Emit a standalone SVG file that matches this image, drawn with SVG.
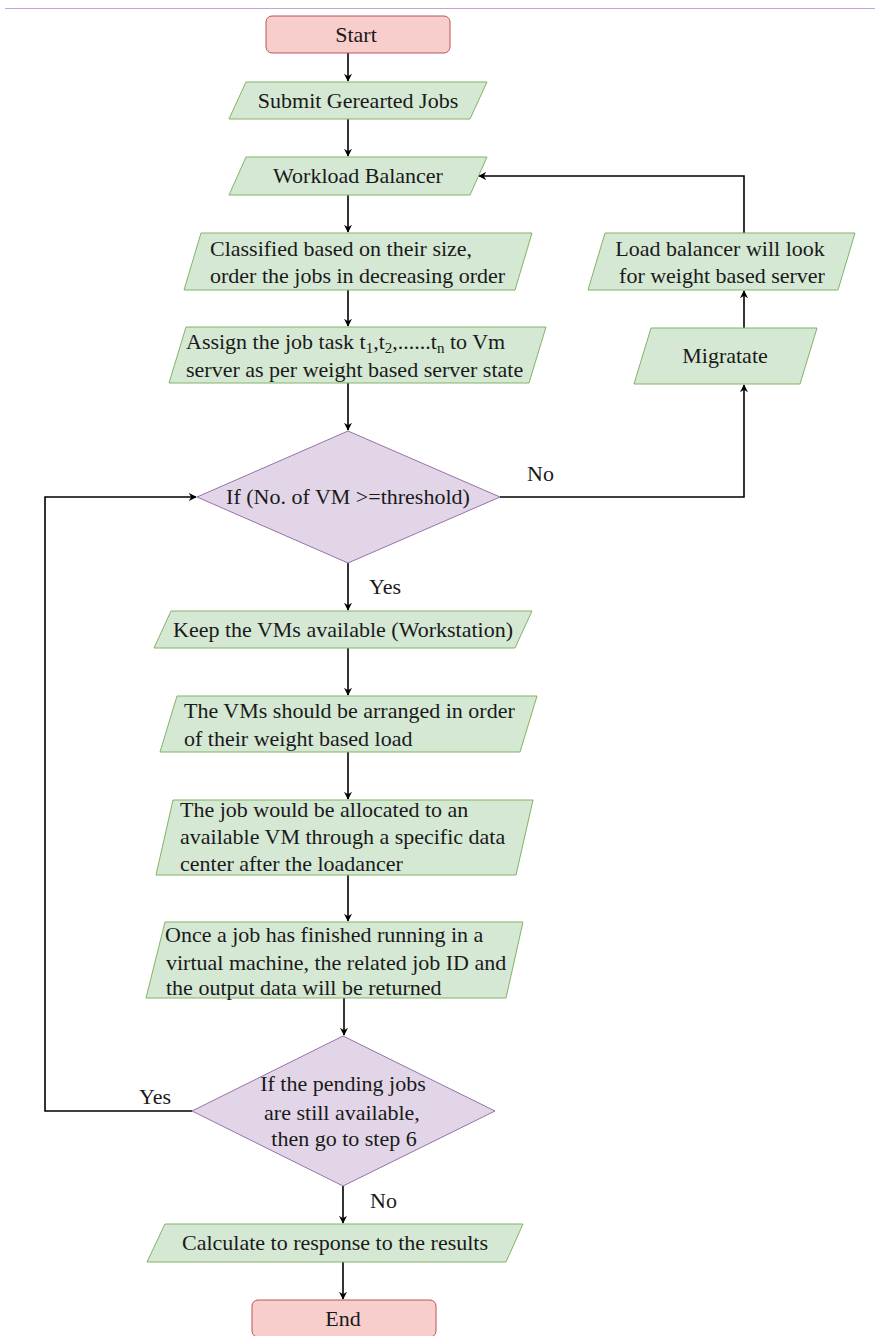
<svg xmlns="http://www.w3.org/2000/svg" width="875" height="1336" viewBox="0 0 875 1336">
<style>
.t{font-family:"Liberation Serif","Times New Roman",serif;font-size:22px;fill:#1a1a1a}
.m{text-anchor:middle}
.g{fill:#d5e8d4;stroke:#82b366;stroke-width:1}
.r{fill:#f8cecc;stroke:#b85450;stroke-width:1}
.p{fill:#e1d5e7;stroke:#9673a6;stroke-width:1}
.c{fill:none;stroke:#000;stroke-width:1.6}
</style>
<defs>
<marker id="a" viewBox="0 0 10 10" refX="9" refY="5" markerWidth="8" markerHeight="8" markerUnits="userSpaceOnUse" orient="auto">
<path d="M0,0 L10,5 L0,10 L3,5 z" fill="#000"/>
</marker>
</defs>
<rect width="875" height="1336" fill="#fff"/>
<line x1="5" y1="8.5" x2="875" y2="8.5" stroke="#c4a4d1" stroke-width="1.2"/>

<g id="connectors">
<path class="c" d="M348,53 V81" marker-end="url(#a)"/>
<path class="c" d="M348,119 V156" marker-end="url(#a)"/>
<path class="c" d="M348,195 V232" marker-end="url(#a)"/>
<path class="c" d="M348,290 V326" marker-end="url(#a)"/>
<path class="c" d="M348,383 V430" marker-end="url(#a)"/>
<path class="c" d="M500,497 H744 V385" marker-end="url(#a)"/>
<path class="c" d="M744,328 V291" marker-end="url(#a)"/>
<path class="c" d="M744,233 V176 H479" marker-end="url(#a)"/>
<path class="c" d="M348,563 V610" marker-end="url(#a)"/>
<path class="c" d="M348,648 V695" marker-end="url(#a)"/>
<path class="c" d="M348,752 V799" marker-end="url(#a)"/>
<path class="c" d="M348,875 V921" marker-end="url(#a)"/>
<path class="c" d="M344,998 V1035" marker-end="url(#a)"/>
<path class="c" d="M192,1111 H45 V497 H196" marker-end="url(#a)"/>
<path class="c" d="M343,1186 V1223" marker-end="url(#a)"/>
<path class="c" d="M343,1262 V1299" marker-end="url(#a)"/>
<text class="t" x="527" y="481">No</text>
<text class="t" x="369" y="594">Yes</text>
<text class="t" x="139" y="1104">Yes</text>
<text class="t" x="370" y="1208">No</text>
</g>

<g id="start">
<rect class="r" x="266" y="16" width="184" height="37" rx="6"/>
<text class="t m" x="356" y="42">Start</text>
</g>
<g id="submit">
<polygon class="g" points="246,82 487,82 470,119 229,119"/>
<text class="t m" x="358" y="108">Submit Gerearted Jobs</text>
</g>
<g id="workload">
<polygon class="g" points="246,157 487,157 470,195 229,195"/>
<text class="t m" x="358" y="183">Workload Balancer</text>
</g>
<g id="classified">
<polygon class="g" points="201,233 532,233 515,290 184,290"/>
<text class="t" x="210" y="256">Classified based on their size,</text>
<text class="t" x="210" y="283">order the jobs in decreasing order</text>
</g>
<g id="assign">
<polygon class="g" points="186,327 546,327 529,383 169,383"/>
<text class="t" x="186" y="349">Assign the job task t<tspan font-size="15" dy="4">1</tspan><tspan dy="-4">,t</tspan><tspan font-size="15" dy="4">2</tspan><tspan dy="-4">,......t</tspan><tspan font-size="15" dy="4">n</tspan><tspan dy="-4"> to Vm</tspan></text>
<text class="t" x="186" y="377">server as per weight based server state</text>
</g>
<g id="decision1">
<polygon class="p" points="348,431 500,497 348,563 197,497"/>
<text class="t m" x="348" y="504">If (No. of VM &gt;=threshold)</text>
</g>
<g id="migratate">
<polygon class="g" points="651,328 817,328 800,384 634,384"/>
<text class="t m" x="725" y="363">Migratate</text>
</g>
<g id="loadbalancer">
<polygon class="g" points="605,233 855,233 838,290 588,290"/>
<text class="t m" x="720" y="256">Load balancer will look</text>
<text class="t m" x="722" y="283">for weight based server</text>
</g>
<g id="keep">
<polygon class="g" points="171,611 532,611 515,648 154,648"/>
<text class="t m" x="343" y="637">Keep the VMs available (Workstation)</text>
</g>
<g id="arrange">
<polygon class="g" points="177,696 537,696 520,752 160,752"/>
<text class="t" x="184" y="718">The VMs should be arranged in order</text>
<text class="t" x="184" y="746">of their weight based load</text>
</g>
<g id="allocate">
<polygon class="g" points="173,800 533,800 516,875 156,875"/>
<text class="t" x="180" y="817">The job would be allocated to an</text>
<text class="t" x="180" y="844">available VM through a specific data</text>
<text class="t" x="180" y="871">center after the loadancer</text>
</g>
<g id="finished">
<polygon class="g" points="165,922 523,922 506,998 146,998"/>
<text class="t" x="165" y="942">Once a job has finished running in a</text>
<text class="t" x="166" y="970">virtual machine, the related job ID and</text>
<text class="t" x="166" y="995">the output data will be returned</text>
</g>
<g id="decision2">
<polygon class="p" points="343,1036 495,1111 343,1186 192,1111"/>
<text class="t m" x="343" y="1091">If the pending jobs</text>
<text class="t m" x="342" y="1120">are still available,</text>
<text class="t m" x="344" y="1146">then go to step 6</text>
</g>
<g id="calculate">
<polygon class="g" points="165,1224 523,1224 506,1262 147,1262"/>
<text class="t m" x="335" y="1250">Calculate to response to the results</text>
</g>
<g id="end">
<rect class="r" x="252" y="1300" width="184" height="37" rx="6"/>
<text class="t m" x="343" y="1326">End</text>
</g>
</svg>
